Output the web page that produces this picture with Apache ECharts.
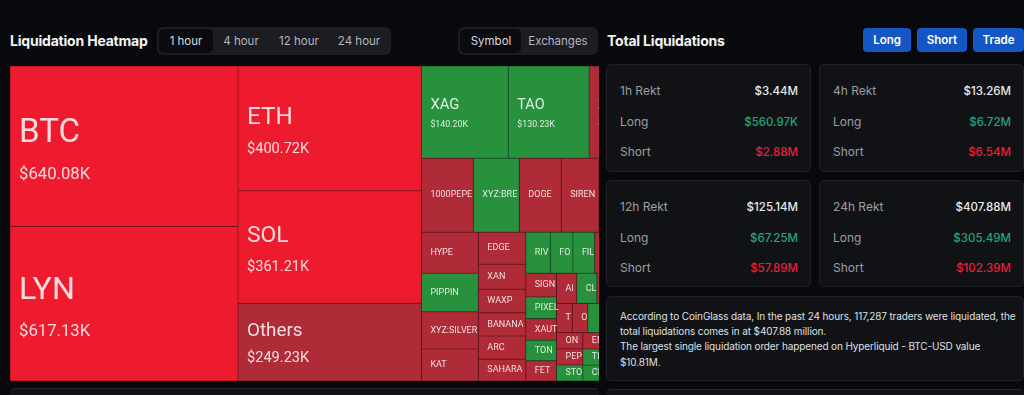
<!DOCTYPE html>
<html>
<head>
<meta charset="utf-8">
<script src="https://cdn.jsdelivr.net/npm/echarts@6.0.0/dist/echarts.min.js"></script>
<style>
  html, body { margin:0; padding:0; width:1024px; height:395px; overflow:hidden; background:#08090c; }
  body { position:relative; font-family: Inter, "Noto Sans", sans-serif; color:#e6e6e6; }
  .a { position:absolute; }
  .h { font-size:14px; font-weight:700; color:#f3f3f3; white-space:nowrap; line-height:18px; letter-spacing:-0.2px; }
  .seg { background:#1b1d22; border-radius:6px; }
  .pill { background:#0a0b0e; border-radius:5px; }
  .tab { font-size:11.5px; color:#b4b7bd; line-height:28px; text-align:center; white-space:nowrap; }
  .tab.on { color:#dcdde0; }
  .btn { background:#1456c4; color:#fff; border-radius:4px; font-size:11.5px; font-weight:600; text-align:center; line-height:24px; height:24px; top:28px; }
  .card { background:#111216; border:1px solid #202227; border-radius:5px; box-sizing:border-box; }
  .row { position:absolute; left:13px; right:12px; font-size:12px; line-height:16px; display:flex; justify-content:space-between; align-items:center; white-space:nowrap; }
  .lbl { color:#9b9ea4; }
  .val { color:#e8e9eb; font-weight:500; font-size:11.5px; }
  .g { color:#22a577; } .r { color:#e5213a; }
  .para { position:absolute; left:13px; top:12px; font-size:10px; letter-spacing:-0.12px; line-height:15.2px; color:#dfe0e2; white-space:nowrap; }
  #clip { left:10px; top:66px; width:589px; height:315px; overflow:hidden; }
  #tm { position:absolute; left:0; top:0; width:680px; height:315px; }
  .low { background:#111216; border-top:1px solid #25272d; border-radius:5px; height:20px; }
</style>
</head>
<body>
  <div class="a h" style="left:10px;top:32px;">Liquidation Heatmap</div>
  <div class="a seg" style="left:157px;top:27px;width:234px;height:28px;"></div>
  <div class="a pill" style="left:159px;top:29px;width:54px;height:24px;"></div>
  <div class="a tab on" style="left:156px;top:27px;width:60px;">1 hour</div>
  <div class="a tab" style="left:211px;top:27px;width:60px;">4 hour</div>
  <div class="a tab" style="left:269px;top:27px;width:60px;">12 hour</div>
  <div class="a tab" style="left:329px;top:27px;width:60px;">24 hour</div>

  <div class="a seg" style="left:458px;top:27px;width:140px;height:28px;"></div>
  <div class="a pill" style="left:460px;top:29px;width:61px;height:24px;"></div>
  <div class="a tab on" style="left:461px;top:27px;width:60px;">Symbol</div>
  <div class="a tab" style="left:523px;top:27px;width:70px;">Exchanges</div>

  <div class="a h" style="left:607px;top:32px;">Total Liquidations</div>
  <div class="a btn" style="left:863px;width:48px;">Long</div>
  <div class="a btn" style="left:917px;width:50px;">Short</div>
  <div class="a btn" style="left:973px;width:51px;">Trade</div>

  <div class="a card" style="left:606px;top:64px;width:205px;height:108px;">
    <div class="row" style="top:18px;"><span class="lbl">1h Rekt</span><span class="val">$3.44M</span></div>
    <div class="row" style="top:48.5px;"><span class="lbl">Long</span><span class="val g">$560.97K</span></div>
    <div class="row" style="top:78.5px;"><span class="lbl">Short</span><span class="val r">$2.88M</span></div>
  </div>
  <div class="a card" style="left:819px;top:64px;width:205px;height:108px;">
    <div class="row" style="top:18px;"><span class="lbl">4h Rekt</span><span class="val">$13.26M</span></div>
    <div class="row" style="top:48.5px;"><span class="lbl">Long</span><span class="val g">$6.72M</span></div>
    <div class="row" style="top:78.5px;"><span class="lbl">Short</span><span class="val r">$6.54M</span></div>
  </div>
  <div class="a card" style="left:606px;top:180px;width:205px;height:107px;">
    <div class="row" style="top:18px;"><span class="lbl">12h Rekt</span><span class="val">$125.14M</span></div>
    <div class="row" style="top:48.5px;"><span class="lbl">Long</span><span class="val g">$67.25M</span></div>
    <div class="row" style="top:78.5px;"><span class="lbl">Short</span><span class="val r">$57.89M</span></div>
  </div>
  <div class="a card" style="left:819px;top:180px;width:205px;height:107px;">
    <div class="row" style="top:18px;"><span class="lbl">24h Rekt</span><span class="val">$407.88M</span></div>
    <div class="row" style="top:48.5px;"><span class="lbl">Long</span><span class="val g">$305.49M</span></div>
    <div class="row" style="top:78.5px;"><span class="lbl">Short</span><span class="val r">$102.39M</span></div>
  </div>
  <div class="a card" style="left:606px;top:296px;width:418px;height:85px;">
    <div class="para">According to CoinGlass data, In the past 24 hours, 117,287 traders were liquidated, the<br>total liquidations comes in at $407.88 million.<br>The largest single liquidation order happened on Hyperliquid - BTC-USD value<br>$10.81M.</div>
  </div>
  <div class="a low" style="left:10px;top:388px;width:589px;"></div>
  <div class="a low" style="left:606px;top:389px;width:418px;"></div>

  <div class="a" id="clip"><div id="tm"></div></div>

<script>
// 1-hour liquidations per symbol, in thousands of USD
const names = ['BTC','LYN','ETH','SOL','Others','XAG','TAO','ZEC','1000PEPE','XYZ:BRENTOIL','DOGE','SIREN','ASTER',
  'HYPE','PIPPIN','XYZ:SILVER','KAT','EDGE','XAN','WAXP','BANANAS31','ARC','SAHARA','RIVER','FOGO','FIL','WLD','ENS',
  'SIGN','PIXEL','XAUT','TON','FET','AIA','CLO','LINK','SUI','TRUMP','OP','WIF','AVAX','XRP','ON','PEPE','STO',
  'ENA','TIA','CRV','ADA','BNB','LTC','UNI'];
const liquidationK = [640.08,617.13,400.72,361.21,249.23,140.20,130.23,71.8,67.4,59.6,54.4,49.0,44.8,
  40.9,38.3,37.2,31.9,26.5,20.7,19.5,19.4,19.3,18.0,17.6,16.2,15.6,14.2,13.7,
  12.7,11.7,11.6,11.0,10.9,10.7,10.65,10.0,9.4,8.1,7.9,7.85,7.8,7.75,7.5,7.45,7.4,
  7.3,7.2,7.1,6.0,5.5,5.0,4.8];
// 2 = heavy red, 1 = red, 0 = green
const tone = [2,2,2,2,1,0,0,1,1,0,1,1,1,
  1,0,1,1,1,1,1,1,1,1,0,0,0,1,1,
  1,0,1,0,1,1,0,1,1,1,1,0,1,1,1,1,0,
  1,0,0,1,0,1,1];

const FILL = ['#28913d', '#b02b38', '#ee1b2e'];
const EDGE = ['#1a5c29', '#741a23', '#9c1422'];
const PX_PER_K = 57.13;
const MAP_H = 315;

function nameFont(v) { return v >= 100 ? 9.7 + 0.0365 * v : 12.3; }
function valFont(v) { return v >= 500 ? 16.7 : (v >= 200 ? 14.6 : 8.8); }
function money(v) { return '$' + v.toFixed(2) + 'K'; }

const data = names.map((n, i) => {
  const v = liquidationK[i];
  const big = v >= 70;
  const nf = nameFont(v), vf = valFont(v);
  const nl = nf * 1.75, vl = vf * 1.5;
  const blockH = big ? nl + vl : 12;
  return {
    name: n,
    value: v,
    itemStyle: { color: FILL[tone[i]], borderColor: EDGE[tone[i]] },
    label: {
      offset: [3, -blockH / 2],
      formatter: big ? '{n|{b}}\n{v|' + money(v) + '}' : '{s|{b}}',
      rich: big
        ? { n: { fontSize: nf, lineHeight: nl }, v: { fontSize: vf, lineHeight: vl } }
        : { s: { fontSize: 9, lineHeight: 12 } }
    }
  };
});

const total = liquidationK.reduce((a, b) => a + b, 0);
const chart = echarts.init(document.getElementById('tm'), null, { renderer: 'canvas' });
chart.setOption({
  animation: false,
  series: [{
    type: 'treemap',
    left: 0, top: 0,
    width: total * PX_PER_K / MAP_H,
    height: MAP_H,
    roam: false,
    nodeClick: false,
    silent: true,
    breadcrumb: { show: false },
    upperLabel: { show: false },
    levels: [
      { itemStyle: { borderWidth: 0, gapWidth: 0, borderColor: 'transparent' } },
      { itemStyle: { borderWidth: 0.5, gapWidth: 0 } }
    ],
    label: {
      show: true,
      position: [0, '50%'],
      align: 'left',
      verticalAlign: 'top',
      padding: [0, 0, 0, 5.5],
      color: 'rgba(255,255,255,0.84)',
      fontFamily: 'Roboto',
      overflow: 'truncate',
      ellipsis: ''
    },
    data: data
  }]
});
</script>
</body>
</html>
